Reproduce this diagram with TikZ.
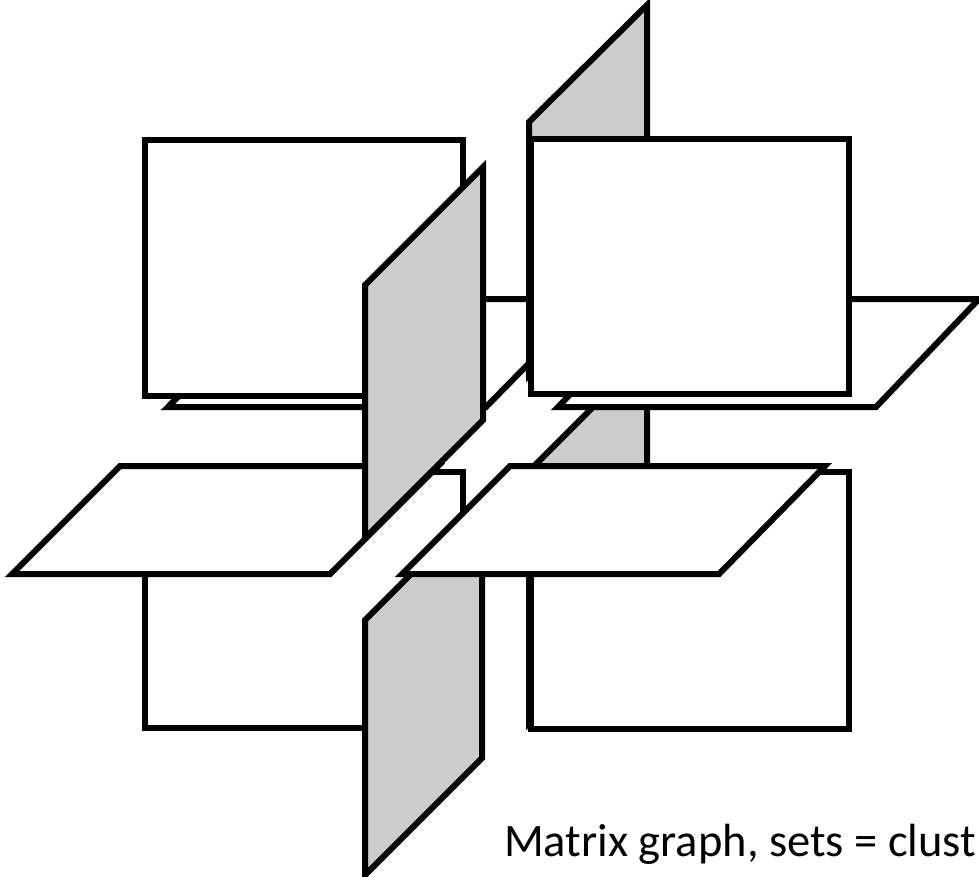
\documentclass[tikz,border=0pt]{standalone}
\usepackage{fontspec}
\setmainfont{Carlito}

\begin{document}
\begin{tikzpicture}[x=1pt, y=-1pt, line width=6pt,
  pane/.style={draw, fill=white},
  wall/.style={draw, fill=black!20}]
  \useasboundingbox (0,0) rectangle (979,876);
  \clip (0,0) rectangle (979,876);
  \draw[pane] (168,407) -- (486,407) -- (592,299) -- (274,299) -- cycle;
  \draw[wall] (529,471) -- (647,353) -- (647,605) -- (529,723) -- cycle;
  \draw[wall] (529,122) -- (647,5) -- (647,257) -- (529,375) -- cycle;
  \draw[pane] (558,407) -- (876,407) -- (979,299) -- (662,299) -- cycle;
  \draw[pane] (145,140) rectangle (463,396);
  \draw[pane] (531,139) rectangle (849,394);
  \draw[pane] (145,472) rectangle (463,728);
  \draw[pane] (531,472) rectangle (849,729);
  \draw[pane] (12,574) -- (330,574) -- (438,466) -- (120,466) -- cycle;
  \draw[wall] (365,285) -- (483,167) -- (483,420) -- (365,538) -- cycle;
  \draw[wall] (365,620) -- (482,503) -- (482,758) -- (365,875) -- cycle;
  \draw[pane] (402,574) -- (719,574) -- (825,466) -- (510,466) -- cycle;
  \node[anchor=base west, inner sep=0pt, font=\fontsize{46.5}{50}\selectfont] (caption) at (501,856) {Matrix graph, sets = clust};
\end{tikzpicture}
\end{document}
